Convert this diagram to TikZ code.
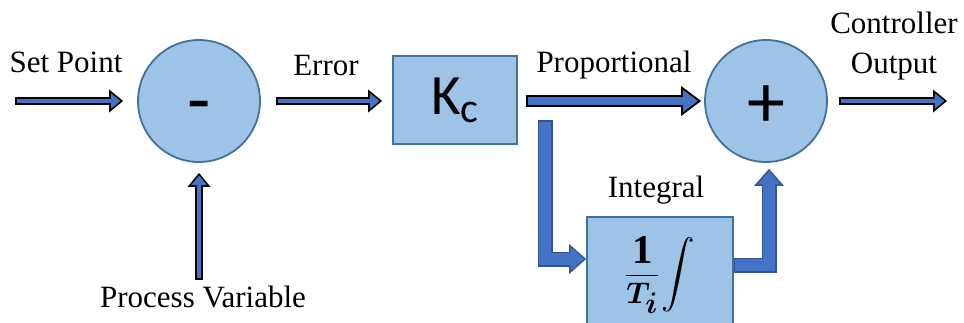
\documentclass[tikz,border=0pt]{standalone}
\usepackage{amsmath}
\usepackage{graphicx}
\usepackage{fontspec}
\setmainfont{Liberation Serif}
\newfontfamily\calib{Carlito}
\usetikzlibrary{arrows.meta,calc}
\definecolor{arrblue}{HTML}{4472C4}
\definecolor{lightblue}{HTML}{9DC3E6}
\definecolor{edgeblue}{HTML}{41719C}
\definecolor{darkedge}{HTML}{2F5597}
\tikzset{
  lbl/.style={font=\fontsize{31}{40}\selectfont, inner sep=0pt, anchor=base},
  sumnode/.style={circle, draw=edgeblue, line width=1.8pt, fill=lightblue, minimum size=122pt, inner sep=0pt},
  blockbox/.style={rectangle, draw=edgeblue, line width=1.8pt, fill=lightblue, inner sep=0pt},
  thinout/.style={line width=8pt, draw=black, -{Triangle[length=14pt,width=23pt,line width=0pt]}},
  thinin/.style={line width=4.6pt, draw=arrblue, shorten <=1.7pt, shorten >=2.7pt, -{Triangle[length=9.6pt,width=15.8pt,line width=0pt]}},
  medout/.style={line width=12pt, draw=black, -{Triangle[length=20pt,width=30pt,line width=0pt]}},
  medin/.style={line width=8pt, draw=arrblue, shorten <=2pt, shorten >=3.3pt, -{Triangle[length=14.7pt,width=22pt,line width=0pt]}},
  thickout/.style={line width=15pt, draw=darkedge, line join=miter, -{Triangle[length=17pt,width=30pt,line width=0pt]}},
  thickin/.style={line width=12pt, draw=arrblue, line join=miter, shorten <=1.5pt, shorten >=2.3pt, -{Triangle[length=13.2pt,width=23.3pt,line width=0pt]}}
}
\newcommand{\thinarrow}[1]{\draw[thinout] #1; \draw[thinin] #1;}
\newcommand{\medarrow}[1]{\draw[medout] #1; \draw[medin] #1;}
\newcommand{\thickarrow}[1]{\draw[thickout] #1; \draw[thickin] #1;}
\begin{document}
\begin{tikzpicture}[x=1pt,y=-1pt]
\useasboundingbox (0,0) rectangle (964,322);
% blocks
\node[sumnode, text height=49pt, text depth=0pt] (minus) at (199,101) {\calib\fontsize{76}{76}\selectfont -};
\node[sumnode, text height=52pt, text depth=0pt] (plus) at (766,101) {\calib\fontsize{76}{76}\selectfont +};
\node[blockbox, minimum width=124pt, minimum height=88pt] (kc) at (455,100)
  {\calib\fontsize{57}{60}\selectfont K\raisebox{-8pt}{\fontsize{42}{44}\selectfont c}};
\node[blockbox, minimum width=146pt, minimum height=128pt,
  label={[yshift=6pt, inner sep=0pt]center:{\fontsize{34}{36}\selectfont\scalebox{1.2}{$\displaystyle\frac{\mathbf{1}}{\boldsymbol{T_i}}$}\kern2pt\scalebox{1.35}{$\displaystyle\int$}}}] (integ) at (660,281) {};
% labels
\node[lbl] (lsp) at (66,72) {Set Point};
\node[lbl] (lerr) at (326,75) {Error};
\node[lbl] (lprop) at (614,72) {Proportional};
\node[lbl, anchor=north, align=center] (lout) at (894,12) {Controller\\Output};
\node[lbl] (lpv) at (203,307) {Process Variable};
\node[lbl] (lint) at (656,197) {Integral};
% coordinates
\coordinate (sp) at (15,101);
\coordinate (co) at (947,101);
\coordinate (pv) at (199,280);
\coordinate (b0) at (545,120);
\coordinate (b1) at (545,259);
\coordinate (o1) at (769,265);
% connectors
\thinarrow{(sp) -- ([xshift=-14pt]minus.west)}
\thinarrow{([xshift=15pt]minus.east) -- ([xshift=-10pt]kc.west |- minus.east)}
\medarrow{([xshift=8pt]kc.east |- plus.west) -- ([xshift=-3pt]plus.west)}
\thinarrow{([xshift=11pt]plus.east) -- (co)}
\thinarrow{(pv) -- ([yshift=-10pt]minus.south)}
\thickarrow{(b0) -- (b1) -- (b1 -| integ.west)}
\thickarrow{(integ.east |- o1) -- (o1) -- ([yshift=-6pt]o1 |- plus.south)}
\end{tikzpicture}
\end{document}
